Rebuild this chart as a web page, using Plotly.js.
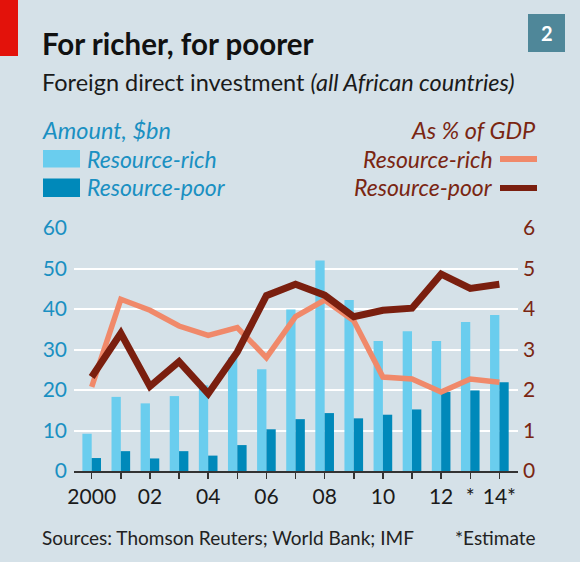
<!DOCTYPE html>
<html>
<head>
<meta charset="utf-8">
<script src="https://cdn.plot.ly/plotly-3.0.1.min.js"></script>
<style>
  html, body { margin: 0; padding: 0; background: #d5e1e8; }
  #chart { width: 580px; height: 562px; }
</style>
</head>
<body>
<div id="chart"></div>
<script>
// ---- Data ----
const years = [2000, 2001, 2002, 2003, 2004, 2005, 2006, 2007, 2008, 2009, 2010, 2011, 2012, 2013, 2014];
const xTickText = ["2000", "", "02", "", "04", "", "06", "", "08", "", "10", "", "12", "*", "14*"];
const richBn = [9.2, 18.3, 16.7, 18.5, 21.2, 28.0, 25.1, 39.9, 52.0, 42.2, 32.1, 34.5, 32.1, 36.8, 38.5];
const poorBn = [3.2, 4.9, 3.1, 4.9, 3.8, 6.4, 10.3, 12.8, 14.3, 13.0, 13.9, 15.2, 19.5, 19.9, 21.9];
const richGdp = [2.08, 4.24, 3.97, 3.58, 3.35, 3.54, 2.80, 3.81, 4.22, 3.71, 2.32, 2.27, 1.95, 2.27, 2.19];
const poorGdp = [2.32, 3.40, 2.09, 2.70, 1.91, 2.94, 4.33, 4.61, 4.34, 3.81, 3.97, 4.02, 4.86, 4.51, 4.61];
const leftTicks = [0, 10, 20, 30, 40, 50, 60];
const rightTicks = [0, 1, 2, 3, 4, 5, 6];

// ---- Style ----
const BG = "#d5e1e8";
const LIGHT = "#6acdee";
const DARK = "#0089ba";
const SALMON = "#f0896a";
const BROWN = "#7a1f0f";
const BLUE_TXT = "#1a90c2";
const BROWN_TXT = "#7a2612";
const FONT = "Lato, 'Open Sans', sans-serif";

// plot area in pixels
const W = 580, H = 562;
const L = 74, R = 518, T = 228, B = 471;
const px = x => (x - L) / (R - L);
const py = y => (B - y) / (B - T);

const traces = [
  { type: "bar", x: years, y: richBn, name: "Resource-rich", marker: { color: LIGHT }, yaxis: "y", hoverinfo: "skip" },
  { type: "bar", x: years, y: poorBn, name: "Resource-poor", marker: { color: DARK }, yaxis: "y", hoverinfo: "skip" },
  { type: "scatter", mode: "lines", x: years, y: richGdp, yaxis: "y2", line: { color: SALMON, width: 5.5 }, hoverinfo: "skip" },
  { type: "scatter", mode: "lines", x: years, y: poorGdp, yaxis: "y2", line: { color: BROWN, width: 7 }, hoverinfo: "skip" }
];

function ann(text, x, y, opts) {
  return Object.assign({
    text: text, xref: "paper", yref: "paper", x: px(x), y: py(y),
    showarrow: false, xanchor: "left", yanchor: "middle"
  }, opts);
}

const annotations = [
  ann("<b>For richer, for poorer</b>", 40, 44, { font: { family: FONT, size: 29.5, color: "#111" } }),
  ann("Foreign direct investment <i>(all African countries)</i>", 40, 82, { font: { family: FONT, size: 23.5, color: "#1a1a1a" } }),
  ann("<b>2</b>", 546.5, 33, { xanchor: "center", font: { family: FONT, size: 20, color: "#ffffff" } }),
  ann("<i>Amount, $bn</i>", 40, 130, { font: { family: FONT, size: 23.5, color: BLUE_TXT } }),
  ann("<i>Resource-rich</i>", 85, 159, { font: { family: FONT, size: 23, color: BLUE_TXT } }),
  ann("<i>Resource-poor</i>", 85, 187.5, { font: { family: FONT, size: 23, color: BLUE_TXT } }),
  ann("<i>As % of GDP</i>", 538, 130, { xanchor: "right", font: { family: FONT, size: 23.5, color: BROWN_TXT } }),
  ann("<i>Resource-rich</i>", 495, 159, { xanchor: "right", font: { family: FONT, size: 23, color: BROWN_TXT } }),
  ann("<i>Resource-poor</i>", 495, 187.5, { xanchor: "right", font: { family: FONT, size: 23, color: BROWN_TXT } }),
  ann("Sources: Thomson Reuters; World Bank; IMF", 40, 537, { font: { family: FONT, size: 19, color: "#222" } }),
  ann("*Estimate", 538, 537, { xanchor: "right", font: { family: FONT, size: 19, color: "#222" } })
];

function rect(x0, y0, x1, y1, color) {
  return { type: "rect", xref: "paper", yref: "paper", x0: px(x0), x1: px(x1), y0: py(y1), y1: py(y0),
           fillcolor: color, line: { width: 0 }, layer: "above" };
}

const shapes = [
  rect(0, 0, 18, 56, "#e3120b"),
  rect(528, 14, 565, 52, "#4f8799"),
  rect(43, 150, 80, 167.5, LIGHT),
  rect(43, 178.5, 80, 197, DARK),
  rect(500, 156, 537, 162, SALMON),
  rect(500, 185, 537, 191, BROWN)
];

const layout = {
  width: W, height: H,
  margin: { l: L, r: W - R, t: T, b: H - B, pad: 0 },
  paper_bgcolor: BG, plot_bgcolor: BG,
  showlegend: false,
  barmode: "group", bargap: 0.36, bargroupgap: 0,
  font: { family: FONT },
  xaxis: {
    range: [1999.392, 2014.64], tickmode: "array", tickvals: years, ticktext: xTickText,
    ticks: "outside", ticklen: 6, tickwidth: 1.5, tickcolor: "#333",
    showline: true, linecolor: "#333", linewidth: 1.5, showgrid: false, zeroline: false,
    tickfont: { family: FONT, size: 21, color: "#1a1a1a" }, fixedrange: true
  },
  yaxis: {
    range: [0, 60], tickmode: "array", tickvals: leftTicks, ticks: "",
    showgrid: true, gridcolor: "#ffffff", gridwidth: 2, zeroline: false, showline: false,
    tickfont: { family: FONT, size: 21, color: BLUE_TXT }, ticklabelstandoff: 6, fixedrange: true
  },
  yaxis2: {
    range: [0, 6], overlaying: "y", side: "right", tickmode: "array", tickvals: rightTicks, ticks: "",
    showgrid: false, zeroline: false, showline: false,
    tickfont: { family: FONT, size: 21, color: BROWN_TXT }, ticklabelstandoff: 4, fixedrange: true
  },
  annotations: annotations,
  shapes: shapes
};

Plotly.newPlot("chart", traces, layout, { staticPlot: true, displayModeBar: false });
</script>
</body>
</html>
